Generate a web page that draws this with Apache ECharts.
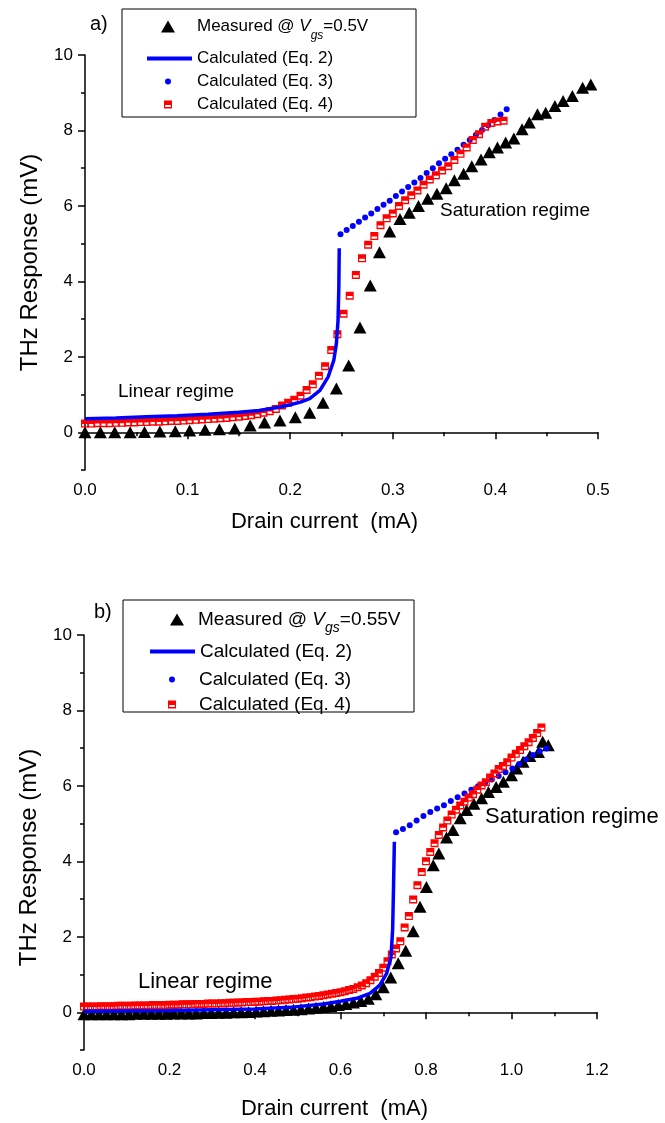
<!DOCTYPE html>
<html>
<head>
<meta charset="utf-8">
<title>THz response vs drain current</title>
<script src="https://cdn.jsdelivr.net/npm/echarts@6/dist/echarts.min.js"></script>
<style>
html, body { margin: 0; padding: 0; background: #fff; }
#main { width: 665px; height: 1123px; }
</style>
</head>
<body>
<div id="main"></div>
<script>
// ---- panel a)  Vgs = 0.5 V ----
var measA_x = [0.000, 0.015, 0.029, 0.044, 0.058, 0.073, 0.088, 0.102, 0.117, 0.131, 0.146, 0.161, 0.175, 0.190, 0.205, 0.219, 0.232, 0.245, 0.257, 0.268, 0.278, 0.287, 0.297, 0.307, 0.316, 0.325, 0.334, 0.343, 0.352, 0.360, 0.369, 0.377, 0.386, 0.394, 0.402, 0.410, 0.418, 0.426, 0.433, 0.441, 0.449, 0.458, 0.466, 0.475, 0.485, 0.493];
var measA_y = [0.00, 0.00, 0.00, 0.00, 0.01, 0.02, 0.03, 0.05, 0.07, 0.08, 0.10, 0.18, 0.26, 0.31, 0.40, 0.52, 0.78, 1.16, 1.77, 2.78, 3.89, 4.77, 5.32, 5.65, 5.82, 6.00, 6.19, 6.32, 6.47, 6.68, 6.85, 7.05, 7.23, 7.42, 7.55, 7.68, 7.79, 8.03, 8.21, 8.43, 8.47, 8.65, 8.78, 8.91, 9.13, 9.22];

var eq2A_x = [0, 0.03, 0.06, 0.09, 0.12, 0.15, 0.17, 0.19, 0.20, 0.21, 0.219, 0.229, 0.237, 0.2425, 0.245, 0.2466, 0.2474, 0.2478];
var eq2A_y = [0.36, 0.38, 0.41, 0.44, 0.48, 0.53, 0.58, 0.67, 0.73, 0.80, 0.89, 1.11, 1.47, 1.91, 2.35, 2.95, 3.83, 4.88];

var eq3A_x = [0.249, 0.255, 0.261, 0.267, 0.273, 0.279, 0.285, 0.291, 0.297, 0.303, 0.309, 0.315, 0.321, 0.327, 0.333, 0.339, 0.345, 0.351, 0.357, 0.363, 0.369, 0.375, 0.381, 0.387, 0.393, 0.399, 0.405, 0.411];
var eq3A_y = [5.25, 5.36, 5.47, 5.58, 5.69, 5.80, 5.92, 6.03, 6.14, 6.26, 6.38, 6.50, 6.62, 6.74, 6.87, 7.00, 7.13, 7.25, 7.37, 7.49, 7.62, 7.75, 7.88, 8.01, 8.14, 8.28, 8.42, 8.56];

var eq4A_x = [0.000, 0.006, 0.012, 0.018, 0.024, 0.030, 0.036, 0.042, 0.048, 0.054, 0.060, 0.066, 0.072, 0.078, 0.084, 0.090, 0.096, 0.102, 0.108, 0.114, 0.120, 0.126, 0.132, 0.138, 0.144, 0.150, 0.156, 0.162, 0.168, 0.174, 0.180, 0.186, 0.192, 0.198, 0.204, 0.210, 0.216, 0.222, 0.228, 0.234, 0.240, 0.246, 0.252, 0.258, 0.264, 0.270, 0.276, 0.282, 0.288, 0.294, 0.300, 0.306, 0.312, 0.318, 0.324, 0.330, 0.336, 0.342, 0.348, 0.354, 0.360, 0.366, 0.372, 0.378, 0.384, 0.390, 0.396, 0.402, 0.408];
var eq4A_y = [0.23, 0.23, 0.24, 0.24, 0.24, 0.25, 0.25, 0.26, 0.26, 0.27, 0.27, 0.28, 0.28, 0.29, 0.30, 0.30, 0.31, 0.32, 0.33, 0.34, 0.35, 0.36, 0.37, 0.38, 0.40, 0.41, 0.43, 0.45, 0.48, 0.52, 0.56, 0.62, 0.71, 0.78, 0.86, 0.97, 1.12, 1.27, 1.50, 1.75, 2.18, 2.60, 3.14, 3.62, 4.17, 4.61, 4.97, 5.20, 5.49, 5.67, 5.80, 6.00, 6.15, 6.28, 6.41, 6.56, 6.70, 6.81, 6.94, 7.05, 7.22, 7.38, 7.55, 7.75, 7.90, 8.10, 8.20, 8.24, 8.26];

// ---- panel b)  Vgs = 0.55 V ----
var measB_x = [0.000, 0.0175, 0.035, 0.0525, 0.070, 0.0875, 0.105, 0.1225, 0.140, 0.1575, 0.175, 0.1925, 0.210, 0.2275, 0.245, 0.2625, 0.280, 0.2975, 0.315, 0.3325, 0.350, 0.3675, 0.385, 0.4025, 0.420, 0.4375, 0.455, 0.4725, 0.490, 0.5075, 0.525, 0.5425, 0.560, 0.5775, 0.595, 0.6125, 0.630, 0.6475, 0.665, 0.6825, 0.700, 0.7175, 0.735, 0.7525, 0.770, 0.786, 0.801, 0.817, 0.830, 0.848, 0.863, 0.880, 0.895, 0.912, 0.930, 0.946, 0.964, 0.981, 1.000, 1.012, 1.027, 1.043, 1.063, 1.073, 1.086];
var measB_y = [-0.05, -0.05, -0.05, -0.05, -0.05, -0.05, -0.05, -0.04, -0.04, -0.04, -0.04, -0.04, -0.03, -0.03, -0.03, -0.03, -0.02, -0.02, -0.01, -0.01, 0.00, 0.00, 0.01, 0.02, 0.03, 0.04, 0.05, 0.06, 0.07, 0.08, 0.10, 0.12, 0.14, 0.16, 0.19, 0.22, 0.26, 0.30, 0.36, 0.48, 0.66, 0.92, 1.30, 1.63, 2.15, 2.80, 3.32, 3.90, 4.21, 4.63, 4.83, 5.14, 5.36, 5.53, 5.67, 5.84, 5.97, 6.11, 6.28, 6.46, 6.64, 6.79, 6.90, 7.17, 7.08];

var eq2B_x = [0, 0.1, 0.2, 0.3, 0.4, 0.482, 0.56, 0.60, 0.638, 0.669, 0.692, 0.708, 0.718, 0.722, 0.724, 0.726];
var eq2B_y = [0.03, 0.04, 0.05, 0.07, 0.09, 0.13, 0.22, 0.29, 0.37, 0.50, 0.72, 1.03, 1.45, 2.20, 3.30, 4.52];

var eq3B_x = [0.730, 0.746, 0.762, 0.778, 0.794, 0.810, 0.826, 0.842, 0.858, 0.874, 0.890, 0.906, 0.922, 0.938, 0.954, 0.970, 0.986, 1.002, 1.018, 1.034, 1.050, 1.066, 1.082];
var eq3B_y = [4.77, 4.86, 4.96, 5.08, 5.20, 5.31, 5.40, 5.49, 5.60, 5.70, 5.80, 5.90, 5.99, 6.08, 6.17, 6.26, 6.36, 6.46, 6.58, 6.70, 6.82, 6.92, 6.99];

var eq4B_x = [0.00, 0.01, 0.02, 0.03, 0.04, 0.05, 0.06, 0.07, 0.08, 0.09, 0.10, 0.11, 0.12, 0.13, 0.14, 0.15, 0.16, 0.17, 0.18, 0.19, 0.20, 0.21, 0.22, 0.23, 0.24, 0.25, 0.26, 0.27, 0.28, 0.29, 0.30, 0.31, 0.32, 0.33, 0.34, 0.35, 0.36, 0.37, 0.38, 0.39, 0.40, 0.41, 0.42, 0.43, 0.44, 0.45, 0.46, 0.47, 0.48, 0.49, 0.50, 0.51, 0.52, 0.53, 0.54, 0.55, 0.56, 0.57, 0.58, 0.59, 0.60, 0.61, 0.62, 0.63, 0.64, 0.65, 0.66, 0.67, 0.68, 0.69, 0.70, 0.71, 0.72, 0.73, 0.74, 0.75, 0.76, 0.77, 0.78, 0.79, 0.80, 0.81, 0.82, 0.83, 0.84, 0.85, 0.86, 0.87, 0.88, 0.89, 0.90, 0.91, 0.92, 0.93, 0.94, 0.95, 0.96, 0.97, 0.98, 0.99, 1.00, 1.01, 1.02, 1.03, 1.04, 1.05, 1.06, 1.07];
var eq4B_y = [0.15, 0.15, 0.15, 0.15, 0.16, 0.16, 0.16, 0.16, 0.17, 0.17, 0.17, 0.17, 0.18, 0.18, 0.18, 0.18, 0.19, 0.19, 0.19, 0.19, 0.20, 0.20, 0.20, 0.21, 0.21, 0.21, 0.22, 0.22, 0.22, 0.23, 0.23, 0.23, 0.24, 0.24, 0.25, 0.25, 0.26, 0.26, 0.27, 0.27, 0.28, 0.28, 0.29, 0.30, 0.30, 0.31, 0.32, 0.33, 0.34, 0.35, 0.36, 0.37, 0.39, 0.40, 0.42, 0.43, 0.45, 0.47, 0.49, 0.51, 0.53, 0.56, 0.59, 0.62, 0.66, 0.71, 0.77, 0.85, 0.94, 1.04, 1.18, 1.35, 1.53, 1.69, 1.88, 2.25, 2.55, 2.99, 3.37, 3.72, 4.00, 4.25, 4.48, 4.70, 4.90, 5.08, 5.24, 5.37, 5.48, 5.58, 5.69, 5.78, 5.90, 6.01, 6.10, 6.22, 6.33, 6.45, 6.53, 6.63, 6.75, 6.85, 6.95, 7.05, 7.16, 7.27, 7.40, 7.55];

var yEvenTicks = [0, 2, 4, 6, 8, 10];

var FONT = '"Liberation Sans", Arial, sans-serif';
var BLUE = '#0000ff';
var RED = '#ff0000';
// half filled square (Origin style): solid top, white slot in the lower half
var HALF_SQUARE = 'path://M0,0L10,0L10,10L0,10Z M1.5,5.5L1.5,8.2L8.5,8.2L8.5,5.5Z';

var legendText = {
  measA: '{n|Measured @ }{i|V}{s|gs}{n|=0.5V}',
  eq2A: 'Calculated (Eq. 2)',
  eq3A: 'Calculated (Eq. 3)',
  eq4A: 'Calculated (Eq. 4)',
  measB: '{n|Measured @ }{i|V}{s|gs}{n|=0.55V}',
  eq2B: 'Calculated (Eq. 2)',
  eq3B: 'Calculated (Eq. 3)',
  eq4B: 'Calculated (Eq. 4)'
};

function zip(xs, ys) {
  return xs.map(function (x, i) { return [x, ys[i]]; });
}

// one legend per row, so every row can have its own icon size and position
function legendRow(item, left, top, w, h, size, padLeft) {
  return {
    data: [item], left: left, top: top, padding: 0,
    itemWidth: w, itemHeight: h, selectedMode: false,
    formatter: function (n) { return legendText[n]; },
    textStyle: {
      fontFamily: FONT, fontSize: size, color: '#000', padding: [0, 0, 0, padLeft],
      rich: {
        n: { fontFamily: FONT, fontSize: size, color: '#000' },
        i: { fontFamily: FONT, fontSize: size, fontStyle: 'italic', color: '#000' },
        s: { fontFamily: FONT, fontSize: size - 5, fontStyle: 'italic', color: '#000', padding: [18, 0, 0, 0] }
      }
    }
  };
}

function xAxisFor(grid, max, step, gap, shift) {
  return {
    type: 'value', gridIndex: grid, min: 0, max: max, interval: step,
    axisLine: { lineStyle: { color: '#000', width: 1.5 } },
    axisTick: { length: 7, lineStyle: { color: '#000', width: 1.5 } },
    minorTick: { show: true, splitNumber: 2, length: 4, lineStyle: { color: '#000', width: 1.5 } },
    splitLine: { show: false },
    axisLabel: { formatter: function (v) { return v.toFixed(1); }, fontFamily: FONT, fontSize: 17, color: '#000', margin: 12 },
    name: 'Drain current  (mA)', nameLocation: 'middle', nameGap: gap,
    nameTextStyle: { fontFamily: FONT, fontSize: 22, color: '#000', padding: [0, shift, 0, 0] }
  };
}

function yAxisFor(grid, shift) {
  return {
    type: 'value', gridIndex: grid, position: 'left', min: -1, max: 10, interval: 1,
    axisLine: { show: true, lineStyle: { color: '#000', width: 1.5 } },
    axisTick: { length: 4, lineStyle: { color: '#000', width: 1.5 } },
    splitLine: { show: false },
    axisLabel: {
      formatter: function (v) { return (v >= 0 && v % 2 === 0) ? String(v) : ''; },
      fontFamily: FONT, fontSize: 17, color: '#000', margin: 12
    },
    name: 'THz Response (mV)', nameLocation: 'middle', nameGap: 43,
    nameTextStyle: { fontFamily: FONT, fontSize: 24, color: '#000', padding: [0, shift, 0, 0] }
  };
}

// second y axis only for the longer major ticks on even values
function yMajorTicks(grid) {
  return {
    type: 'value', gridIndex: grid, position: 'left', offset: 0, min: -1, max: 10, interval: 1,
    axisLine: { show: false }, axisLabel: { show: false }, splitLine: { show: false },
    axisTick: { show: true, length: 7, customValues: yEvenTicks, lineStyle: { color: '#000', width: 1.5 } }
  };
}

function panelSeries(tag, xi, yi, meas, eq2, eq3, eq4) {
  return [
    { name: 'eq2' + tag, type: 'line', xAxisIndex: xi, yAxisIndex: yi, data: eq2,
      symbol: 'none', showSymbol: false, lineStyle: { color: BLUE, width: 3.5 }, itemStyle: { color: BLUE } },
    { name: 'meas' + tag, type: 'scatter', xAxisIndex: xi, yAxisIndex: yi, data: meas,
      symbol: 'triangle', symbolSize: [13, 12], itemStyle: { color: '#000', opacity: 1 } },
    { name: 'eq3' + tag, type: 'scatter', xAxisIndex: xi, yAxisIndex: yi, data: eq3,
      symbol: 'circle', symbolSize: 6, itemStyle: { color: BLUE, opacity: 1 } },
    { name: 'eq4' + tag, type: 'scatter', xAxisIndex: xi, yAxisIndex: yi, data: eq4,
      symbol: HALF_SQUARE, symbolSize: 8, itemStyle: { color: RED, opacity: 1 } }
  ];
}

var chart = echarts.init(document.getElementById('main'));

var option = {
  animation: false,
  backgroundColor: '#fff',
  grid: [
    { left: 85, top: 55, width: 513, height: 415 },
    { left: 84, top: 635, width: 513, height: 415 }
  ],
  xAxis: [xAxisFor(0, 0.5, 0.1, 41, 34), xAxisFor(1, 1.2, 0.2, 48, 12)],
  yAxis: [yAxisFor(0, 0), yMajorTicks(0), yAxisFor(1, 30), yMajorTicks(1)],
  legend: [
    legendRow('measA', 161, 18, 14, 12, 17, 17),
    legendRow({ name: 'eq2A', icon: 'rect' }, 147, 50, 45, 4, 17, 0),
    legendRow('eq3A', 165, 73, 6, 6, 17, 21),
    legendRow('eq4A', 164, 96, 8, 8, 17, 20),
    legendRow('measB', 170, 610, 14, 12, 19, 9),
    legendRow({ name: 'eq2B', icon: 'rect' }, 150, 642, 45, 4, 19, 0),
    legendRow('eq3B', 169, 670, 6, 6, 19, 19),
    legendRow('eq4B', 168, 695, 8, 8, 19, 18)
  ],
  graphic: [
    { type: 'rect', shape: { x: 122, y: 9, width: 294, height: 108 }, style: { fill: 'none', stroke: '#000', lineWidth: 1 } },
    { type: 'rect', shape: { x: 123, y: 600, width: 291, height: 112 }, style: { fill: 'none', stroke: '#000', lineWidth: 1 } },
    { type: 'text', x: 90, y: 24, style: { text: 'a)', font: '20px ' + FONT, fill: '#000', verticalAlign: 'middle' } },
    { type: 'text', x: 94, y: 612, style: { text: 'b)', font: '20px ' + FONT, fill: '#000', verticalAlign: 'middle' } },
    { type: 'text', x: 118, y: 392, style: { text: 'Linear regime', font: '19px ' + FONT, fill: '#000', verticalAlign: 'middle' } },
    { type: 'text', x: 440, y: 211, style: { text: 'Saturation regime', font: '19px ' + FONT, fill: '#000', verticalAlign: 'middle' } },
    { type: 'text', x: 138, y: 982, style: { text: 'Linear regime', font: '22px ' + FONT, fill: '#000', verticalAlign: 'middle' } },
    { type: 'text', x: 485, y: 817, style: { text: 'Saturation regime', font: '22px ' + FONT, fill: '#000', verticalAlign: 'middle' } }
  ],
  series: [].concat(
    panelSeries('A', 0, 0, zip(measA_x, measA_y), zip(eq2A_x, eq2A_y), zip(eq3A_x, eq3A_y), zip(eq4A_x, eq4A_y)),
    panelSeries('B', 1, 2, zip(measB_x, measB_y), zip(eq2B_x, eq2B_y), zip(eq3B_x, eq3B_y), zip(eq4B_x, eq4B_y))
  )
};

chart.setOption(option);
</script>
</body>
</html>
